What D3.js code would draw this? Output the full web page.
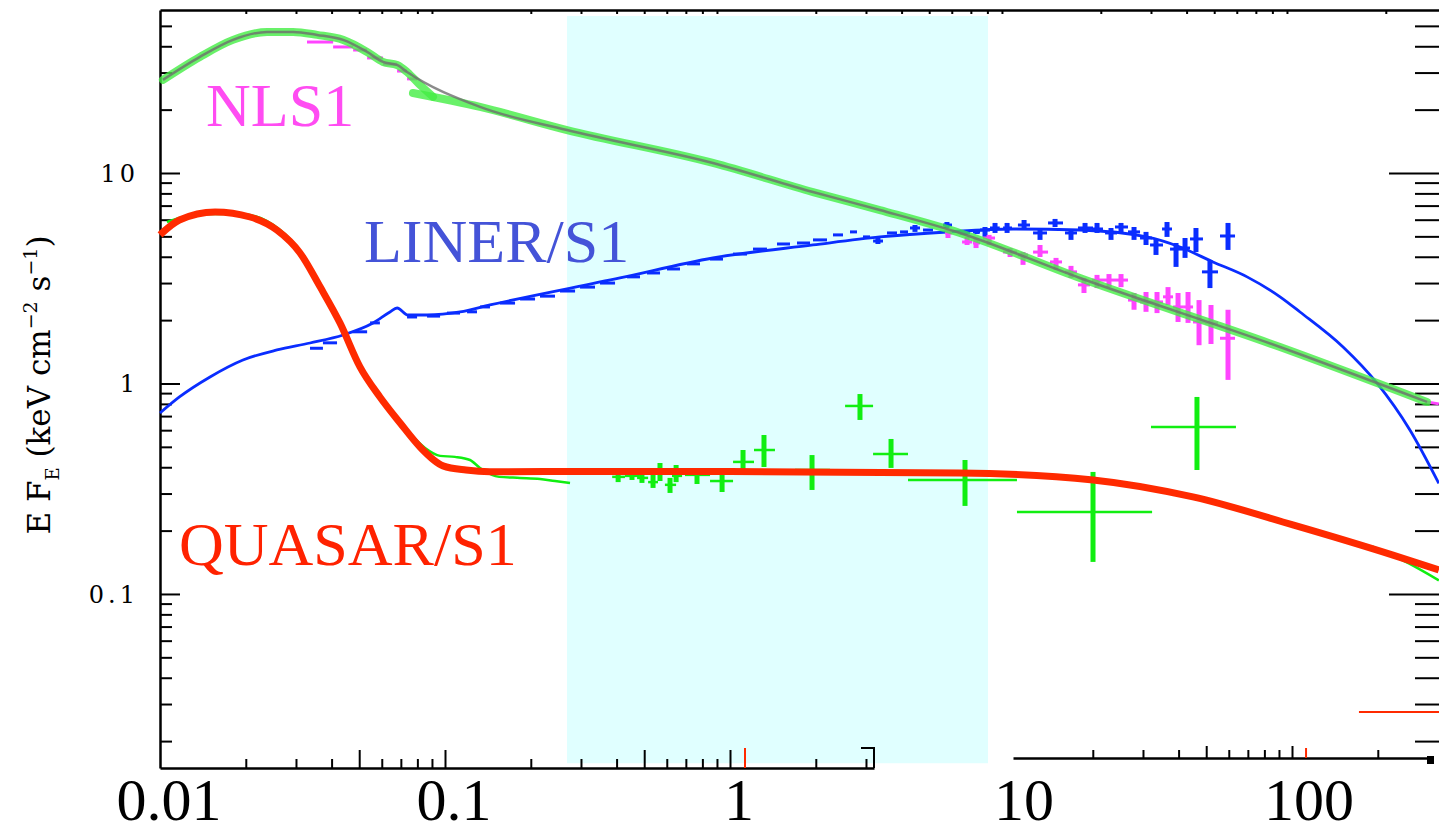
<!DOCTYPE html>
<html>
<head>
<meta charset="utf-8">
<script src="https://cdn.jsdelivr.net/npm/d3@7"></script>
<style>
  html, body { margin: 0; padding: 0; background: #fff; }
  svg { display: block; }
</style>
</head>
<body>
<div id="chart"></div>
<script>
// ---- data (energy in keV, E F_E in keV cm^-2 s^-1) ----

// shaded energy band
const bandE = [0.268, 8.04];
const bandF = [0.0157, 55.7];

// NLS1 model, soft hump and power law
const nlsSoftE = [0.01024, 0.0138, 0.01803, 0.02374, 0.0293, 0.0356, 0.0439, 0.0533, 0.0606, 0.0679, 0.0736, 0.0817, 0.0908];
const nlsSoftF = [27.7, 35.6, 42.9, 46.8, 46.8, 45.3, 42.9, 37.6, 33.7, 32.6, 30.2, 26.2, 23.0];
const nlsPowE = [0.0772, 0.1327, 0.268, 0.871, 1.955, 3.357, 6.41, 16.9, 85.1, 279];
const nlsPowF = [24.0, 20.6, 16.0, 11.16, 8.12, 6.67, 5.19, 3.17, 1.49, 0.817];
const nlsTailE = [279, 307];
const nlsTailF = [0.817, 0.80];

// NLS1 data: [E, Elo, Ehi, F, Flo, Fhi]
const nlsData = [
  [0.0365, 0.0328, 0.0405, 41.9, 41.9, 41.9],
  [0.0439, 0.0405, 0.0476, 39.7, 39.7, 39.7],
  [0.0503, 0.0476, 0.0533, 38.4, 38.4, 38.4],
  [0.0568, 0.0533, 0.0606, 35.2, 35.2, 35.2],
  [0.0641, 0.0606, 0.0679, 32.9, 32.9, 32.9],
  [0.0707, 0.0679, 0.0736, 30.5, 30.5, 30.5],
  [0.0766, 0.0736, 0.0798, 28.0, 28.0, 28.0],
  [5.82, 5.68, 6.01, 5.19, 4.91, 5.36],
  [6.79, 6.52, 7.07, 4.70, 4.55, 4.97],
  [7.30, 7.12, 7.54, 4.65, 4.40, 4.91],
  [8.11, 7.72, 8.51, 4.91, 4.55, 5.08],
  [9.61, 9.08, 10.16, 4.21, 3.99, 4.40],
  [10.67, 10.24, 11.11, 4.08, 3.66, 4.21],
  [12.24, 11.57, 13.06, 4.21, 3.99, 4.55],
  [13.93, 13.27, 14.62, 3.78, 3.46, 3.95],
  [15.72, 14.98, 16.50, 3.39, 3.17, 3.62],
  [17.46, 16.63, 18.32, 2.94, 2.69, 3.17],
  [19.40, 18.62, 20.36, 3.10, 2.84, 3.28],
  [21.37, 20.36, 22.43, 3.10, 2.87, 3.31],
  [23.55, 22.43, 24.92, 3.10, 2.87, 3.31],
  [26.16, 24.92, 27.46, 2.49, 2.24, 2.69],
  [28.82, 27.46, 30.25, 2.44, 2.19, 2.72],
  [31.50, 30.25, 33.06, 2.44, 2.16, 2.72],
  [34.43, 33.06, 35.85, 2.58, 2.36, 2.87],
  [37.33, 35.85, 38.87, 2.31, 1.96, 2.69],
  [40.47, 38.87, 42.14, 2.31, 1.94, 2.72],
  [44.23, 42.14, 46.42, 1.96, 1.52, 2.49],
  [48.72, 46.42, 51.56, 1.94, 1.54, 2.36],
  [55.90, 52.40, 59.16, 1.64, 1.04, 2.24]
];

// LINER/S1 model
const linerE = [0.01, 0.0117, 0.01498, 0.01955, 0.02573, 0.0336, 0.0439, 0.0559, 0.0641, 0.0679, 0.0741, 0.0865, 0.1129, 0.1438, 0.411, 0.871, 1.955, 3.357, 5.77, 9.84, 16.9, 29.0, 37.9, 49.5, 65.2, 85.1, 100, 141.6, 186, 243, 307];
const linerF = [0.724, 0.863, 1.074, 1.293, 1.443, 1.557, 1.700, 1.939, 2.186, 2.284, 2.115, 2.115, 2.186, 2.360, 3.171, 3.946, 4.550, 4.966, 5.245, 5.42, 5.36, 4.966, 4.45, 3.78, 3.21, 2.58, 2.186, 1.491, 1.006, 0.601, 0.335];

// LINER/S1 data: [E, Elo, Ehi, F, Flo, Fhi]
const linerData = [
  [0.0353, 0.0336, 0.0373, 1.47, 1.47, 1.47],
  [0.0395, 0.0373, 0.0418, 1.56, 1.56, 1.56],
  [0.0503, 0.0475, 0.0533, 1.76, 1.76, 1.76],
  [0.0568, 0.0546, 0.0591, 1.94, 1.94, 1.94],
  [0.0766, 0.0736, 0.0798, 2.07, 2.07, 2.07],
  [0.0908, 0.0865, 0.0961, 2.09, 2.09, 2.09],
  [0.1067, 0.1016, 0.1129, 2.16, 2.16, 2.16],
  [0.1243, 0.1195, 0.1295, 2.19, 2.19, 2.19],
  [0.1382, 0.1327, 0.1438, 2.31, 2.31, 2.31],
  [0.1650, 0.1560, 0.1761, 2.41, 2.41, 2.41],
  [0.1941, 0.1834, 0.2070, 2.52, 2.52, 2.52],
  [0.2280, 0.2154, 0.2432, 2.60, 2.60, 2.60],
  [0.2679, 0.2532, 0.2860, 2.75, 2.75, 2.75],
  [0.3148, 0.2977, 0.3360, 2.87, 2.87, 2.87],
  [0.3702, 0.3499, 0.3950, 3.00, 3.00, 3.00],
  [0.4566, 0.4352, 0.4834, 3.21, 3.21, 3.21],
  [0.5370, 0.5114, 0.5682, 3.35, 3.35, 3.35],
  [0.6310, 0.6012, 0.6676, 3.50, 3.50, 3.50],
  [0.7413, 0.7063, 0.7848, 3.70, 3.70, 3.70],
  [0.8932, 0.8508, 0.9451, 3.90, 3.90, 3.90],
  [1.084, 1.0245, 1.147, 4.12, 4.12, 4.12],
  [1.274, 1.204, 1.348, 4.35, 4.35, 4.35],
  [1.535, 1.462, 1.624, 4.60, 4.60, 4.60],
  [1.803, 1.718, 1.909, 4.65, 4.65, 4.65],
  [2.070, 1.955, 2.190, 4.81, 4.81, 4.81],
  [2.393, 2.298, 2.492, 5.08, 5.08, 5.08],
  [2.702, 2.636, 2.790, 5.25, 5.25, 5.25],
  [3.00, 2.929, 3.099, 4.97, 4.97, 4.97],
  [3.304, 3.177, 3.442, 4.75, 4.60, 4.91],
  [3.701, 3.555, 3.855, 5.19, 5.19, 5.19],
  [4.080, 3.950, 4.213, 5.25, 5.25, 5.25],
  [4.457, 4.281, 4.642, 5.48, 5.25, 5.66],
  [4.952, 4.755, 5.156, 5.36, 5.36, 5.36],
  [5.77, 5.59, 6.01, 5.66, 5.48, 5.85],
  [6.677, 6.41, 6.95, 5.19, 5.08, 5.30],
  [7.356, 7.12, 7.54, 5.25, 5.13, 5.36],
  [7.848, 7.54, 8.17, 5.36, 4.97, 5.54],
  [8.51, 8.17, 8.84, 5.48, 5.19, 5.79],
  [9.38, 9.08, 9.76, 5.48, 5.19, 5.79],
  [10.76, 10.24, 11.29, 5.66, 5.36, 5.98],
  [12.24, 11.57, 12.95, 5.19, 4.81, 5.42],
  [13.82, 13.06, 14.74, 5.79, 5.54, 6.05],
  [15.72, 14.98, 16.50, 5.19, 4.81, 5.42],
  [17.61, 16.63, 18.78, 5.48, 5.19, 5.79],
  [19.40, 18.62, 20.36, 5.42, 5.19, 5.79],
  [21.72, 20.70, 22.80, 5.19, 4.81, 5.48],
  [23.55, 22.43, 24.92, 5.54, 5.19, 5.79],
  [26.16, 24.92, 27.46, 5.25, 4.81, 5.54],
  [28.82, 27.46, 30.25, 4.91, 4.55, 5.25],
  [31.24, 29.77, 33.06, 4.55, 4.08, 4.81],
  [34.15, 32.80, 35.56, 5.42, 4.97, 5.85],
  [36.73, 34.99, 38.87, 4.35, 3.58, 4.65],
  [39.50, 37.93, 41.12, 4.40, 3.95, 4.91],
  [43.15, 41.12, 45.66, 4.86, 4.21, 5.48],
  [48.31, 45.29, 51.56, 3.39, 2.84, 3.86],
  [55.90, 52.40, 59.16, 5.02, 4.31, 5.79]
];

// QUASAR/S1 model
const quasarE = [0.01, 0.0117, 0.0156, 0.0207, 0.0257, 0.0310, 0.0365, 0.0428, 0.0503, 0.0591, 0.0696, 0.0817, 0.0984, 0.1185, 0.1437, 0.348, 1.0, 6.41, 18.8, 42.1, 94.4, 212, 307];
const quasarF = [5.08, 5.98, 6.53, 6.18, 5.36, 4.17, 2.87, 1.94, 1.20, 0.863, 0.649, 0.499, 0.406, 0.388, 0.381, 0.382, 0.382, 0.376, 0.348, 0.289, 0.213, 0.153, 0.130];

// QUASAR/S1 soft data trace and high-energy tail
const quasarSoftE = [0.01058, 0.0138, 0.0191, 0.0264, 0.0323, 0.0379, 0.0446, 0.0524, 0.0616, 0.0724, 0.0851, 0.0961, 0.1084, 0.1224, 0.1327, 0.155, 0.1834, 0.2155, 0.2432, 0.2746];
const quasarSoftF = [5.85, 6.39, 6.39, 5.36, 3.95, 2.66, 1.74, 1.11, 0.808, 0.615, 0.494, 0.453, 0.448, 0.433, 0.397, 0.360, 0.356, 0.352, 0.344, 0.337];
const quasarTailE = [180, 240, 307];
const quasarTailF = [0.168, 0.140, 0.116];

// QUASAR/S1 data: [E, Elo, Ehi, F, Flo, Fhi]
const quasarData = [
  [0.405, 0.386, 0.428, 0.360, 0.340, 0.380],
  [0.453, 0.428, 0.483, 0.364, 0.348, 0.380],
  [0.491, 0.472, 0.516, 0.356, 0.337, 0.372],
  [0.537, 0.516, 0.559, 0.340, 0.319, 0.372],
  [0.568, 0.545, 0.591, 0.376, 0.344, 0.419],
  [0.616, 0.591, 0.647, 0.330, 0.302, 0.356],
  [0.647, 0.626, 0.679, 0.364, 0.340, 0.410],
  [0.766, 0.695, 0.851, 0.368, 0.333, 0.388],
  [0.938, 0.851, 1.025, 0.344, 0.305, 0.368],
  [1.111, 1.025, 1.214, 0.424, 0.368, 0.483],
  [1.316, 1.214, 1.438, 0.483, 0.401, 0.569],
  [1.940, 1.690, 2.244, 0.388, 0.312, 0.457],
  [2.858, 2.534, 3.177, 0.782, 0.671, 0.891],
  [3.673, 3.177, 4.213, 0.462, 0.397, 0.545],
  [6.677, 4.213, 10.16, 0.348, 0.262, 0.433],
  [18.78, 10.16, 30.27, 0.245, 0.142, 0.380],
  [43.5, 30.0, 59.6, 0.622, 0.388, 0.863]
];
// stray red marks near the bottom
const quasarStray = [
  [1.129, 1.129, 1.129, 0.0166, 0.0149, 0.01855],
  [105, 105, 105, 0.0176, 0.01664, 0.01855],
  [250, 161, 330, 0.0275, 0.0275, 0.0275]
];

// axis ticks and labels
const xLabelVals = [0.01, 0.1, 1, 10, 100];
const xLabels = ["0.01", "0.1", "1", "10", "100"];
const xMinorLow = [0.02, 0.03, 0.04, 0.06, 0.07, 0.08, 0.09, 0.2, 0.3, 0.4, 0.6, 0.7, 0.8, 0.9, 2, 3];
const xMidLow = [0.05, 0.1, 0.5, 1];
const xMinorHigh = [20, 30, 40, 60, 70, 80, 90, 200];
const xMidHigh = [50, 100];
const xTopTicks = [0.02, 0.03, 0.04, 0.05, 0.06, 0.07, 0.08, 0.09, 0.2, 0.3, 0.4, 0.5, 0.6, 0.7, 0.8, 0.9, 2, 3, 4, 5, 6, 7, 8, 9, 20, 30, 40, 50, 60, 70, 80, 90, 200];
const yMajor = [0.1, 1, 10];
const yLabels = ["0.1", "1", "10"];
const yMinor = [0.02, 0.03, 0.04, 0.05, 0.06, 0.07, 0.08, 0.09, 0.2, 0.3, 0.4, 0.5, 0.6, 0.7, 0.8, 0.9, 2, 3, 4, 5, 6, 7, 8, 9, 20, 30, 40, 50];

// ---- drawing ----
const width = 1439, height = 833;

const svg = d3.select("#chart")
  .append("svg")
  .attr("width", width)
  .attr("height", height);

const x = d3.scaleLog().domain([0.01, 307.4]).range([160, 1439]);
const y = d3.scaleLog().domain([0.0149, 59.48]).range([768, 10]);

const line = d3.line()
  .x(d => x(d[0]))
  .y(d => y(d[1]))
  .curve(d3.curveMonotoneX);

// shaded band
svg.append("rect")
  .attr("x", x(bandE[0]))
  .attr("y", y(bandF[1]))
  .attr("width", x(bandE[1]) - x(bandE[0]))
  .attr("height", y(bandF[0]) - y(bandF[1]))
  .attr("fill", "#e0ffff");

// axis helper: ticks only, no labels
function tickAxis(axis, transform, vals, size, showDomain) {
  const g = svg.append("g")
    .attr("transform", transform)
    .call(axis.tickValues(vals).tickSize(size).tickSizeOuter(0).tickFormat(""));
  g.selectAll(".tick line").attr("stroke", "#000").attr("stroke-width", 2);
  g.select(".domain").attr("stroke", showDomain ? "#000" : "none").attr("stroke-width", 2.5);
  return g;
}

// left axis
tickAxis(d3.axisRight(y), "translate(160,0)", yMajor, 20, true);
tickAxis(d3.axisRight(y), "translate(160,0)", yMinor, 12, false);
// right axis (frame edge just outside the picture)
tickAxis(d3.axisLeft(y), "translate(1440,0)", yMajor, 51, true);
tickAxis(d3.axisLeft(y), "translate(1440,0)", yMinor, 25, false);
// top frame
tickAxis(d3.axisBottom(x), "translate(0,10)", xTopTicks, 4, true);

// bottom axis, left piece
const xLow = x.copy().domain([0.01, x.invert(874)]).range([160, 874]);
tickAxis(d3.axisTop(xLow), "translate(0,768)", xMinorLow, 9, true);
tickAxis(d3.axisTop(xLow), "translate(0,768)", xMidLow, 18, false);
svg.append("path")
  .attr("d", `M${xLow(xLow.domain()[1])},768V748H861`)
  .attr("fill", "none").attr("stroke", "#000").attr("stroke-width", 2);

// bottom axis, right piece (sits a little higher and to the left)
const xHigh = x.copy().domain([x.invert(1021), x.invert(1436)]).range([1013, 1428]);
tickAxis(d3.axisTop(xHigh), "translate(0,758)", xMinorHigh, 8, true);
tickAxis(d3.axisTop(xHigh), "translate(0,758)", xMidHigh, 12, false);
svg.append("rect").attr("x", 1427).attr("y", 756).attr("width", 7).attr("height", 8).attr("fill", "#000");

// x tick labels
svg.append("g")
  .selectAll("text")
  .data(xLabelVals)
  .join("text")
  .attr("x", d => x(d) + 9)
  .attr("y", 820)
  .attr("text-anchor", "middle")
  .attr("font-family", "'Liberation Serif', 'Times New Roman', serif")
  .attr("font-size", 60)
  .attr("fill", "#000")
  .text((d, i) => xLabels[i]);

// y tick labels
svg.append("g")
  .selectAll("text")
  .data(yMajor)
  .join("text")
  .attr("x", 139)
  .attr("y", d => y(d) + 9)
  .attr("text-anchor", "end")
  .attr("font-family", "'DejaVu Serif', serif")
  .attr("font-size", 24)
  .attr("letter-spacing", 4)
  .attr("fill", "#000")
  .text((d, i) => yLabels[i]);

// y axis title
const yTitle = svg.append("text")
  .attr("transform", "translate(50,385) rotate(-90)")
  .attr("text-anchor", "middle")
  .attr("font-family", "'DejaVu Serif', serif")
  .attr("font-size", 31)
  .attr("fill", "#000");
yTitle.append("tspan").text("E F");
yTitle.append("tspan").attr("font-size", 18).attr("dy", 9).text("E");
yTitle.append("tspan").attr("dy", -9).text(" (keV cm");
yTitle.append("tspan").attr("font-size", 19).attr("dy", -13).text("−2");
yTitle.append("tspan").attr("dy", 13).text(" s");
yTitle.append("tspan").attr("font-size", 19).attr("dy", -13).text("−1");
yTitle.append("tspan").attr("dy", 13).text(")");

// error-bar crosses
function crosses(data, color, vw, hw) {
  const g = svg.append("g");
  g.selectAll("line.h")
    .data(data.filter(d => d[1] !== d[2]))
    .join(enter => enter.append("line").attr("class", "h"))
    .attr("x1", d => x(d[1])).attr("x2", d => x(d[2]))
    .attr("y1", d => y(d[3])).attr("y2", d => y(d[3]))
    .attr("stroke", color).attr("stroke-width", hw);
  g.selectAll("line.v")
    .data(data.filter(d => d[4] !== d[5]))
    .join(enter => enter.append("line").attr("class", "v"))
    .attr("x1", d => x(d[0])).attr("x2", d => x(d[0]))
    .attr("y1", d => y(d[4])).attr("y2", d => y(d[5]))
    .attr("stroke", color).attr("stroke-width", vw);
}

// LINER model + data
svg.append("path")
  .attr("d", line(d3.zip(linerE, linerF)))
  .attr("fill", "none").attr("stroke", "#0a2dff").attr("stroke-width", 2.8);
crosses(linerData, "#0a2dff", 5, 3);

// NLS1 data
crosses(nlsData, "#ff44ff", 5, 3);
svg.append("path")
  .attr("d", line(d3.zip(nlsTailE, nlsTailF)))
  .attr("fill", "none").attr("stroke", "#ff44ff").attr("stroke-width", 3);

// QUASAR data
svg.append("path")
  .attr("d", line(d3.zip(quasarSoftE, quasarSoftF)))
  .attr("fill", "none").attr("stroke", "#11ee11").attr("stroke-width", 2.5);
svg.append("path")
  .attr("d", line(d3.zip(quasarTailE, quasarTailF)))
  .attr("fill", "none").attr("stroke", "#11ee11").attr("stroke-width", 2.5);
crosses(quasarData, "#11ee11", 5, 2.5);

// NLS1 model: broad translucent green band with grey core
[d3.zip(nlsSoftE, nlsSoftF), d3.zip(nlsPowE, nlsPowF)].forEach(pts => {
  svg.append("path")
    .attr("d", line(pts))
    .attr("fill", "none")
    .attr("stroke", "#44ee44")
    .attr("stroke-opacity", 0.8)
    .attr("stroke-width", 8)
    .attr("stroke-linecap", "round");
});
svg.append("path")
  .attr("d", line(d3.zip(nlsSoftE.slice(0, 11), nlsSoftF.slice(0, 11)).concat(d3.zip(nlsPowE.slice(1), nlsPowF.slice(1)))))
  .attr("fill", "none").attr("stroke", "#6e6e6e").attr("stroke-opacity", 0.8).attr("stroke-width", 2.5);

// QUASAR model
svg.append("path")
  .attr("d", line(d3.zip(quasarE, quasarF)))
  .attr("fill", "none").attr("stroke", "#ff2a00").attr("stroke-width", 7);
crosses(quasarStray, "#ff2a00", 2, 2);

// class labels
const labelFont = "'Liberation Serif', 'Times New Roman', serif";
svg.append("text").attr("x", 206).attr("y", 126)
  .attr("font-family", labelFont).attr("font-size", 62)
  .attr("fill", "#ff4cf2").text("NLS1");
svg.append("text").attr("x", 364).attr("y", 262)
  .attr("font-family", labelFont).attr("font-size", 62)
  .attr("fill", "#4453d8").text("LINER/S1");
svg.append("text").attr("x", 179).attr("y", 565)
  .attr("font-family", labelFont).attr("font-size", 62)
  .attr("fill", "#ff2200").text("QUASAR/S1");
</script>
</body>
</html>
